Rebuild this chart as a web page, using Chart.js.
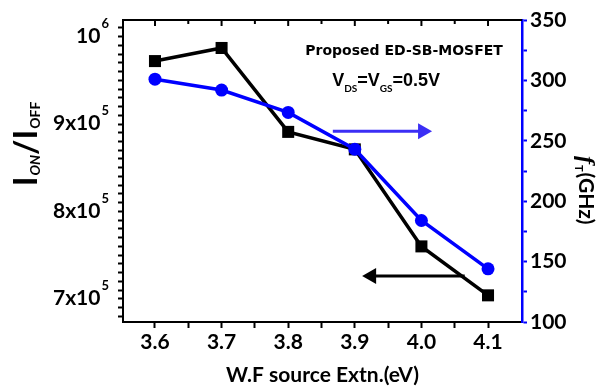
<!DOCTYPE html>
<html>
<head>
<meta charset="utf-8">
<script src="https://cdn.jsdelivr.net/npm/chart.js@4"></script>
<style>
  html, body { margin: 0; padding: 0; background: #fff; }
  #wrap { width: 601px; height: 390px; }
</style>
</head>
<body>
<div id="wrap"><canvas id="chart" width="601" height="390"></canvas></div>
<script>
// Data
const wfSource = [3.6, 3.7, 3.8, 3.9, 4.0, 4.1];
const ionIoff = [962000, 977000, 881000, 861000, 750000, 694000];
const ftGHz = [301, 292, 273.5, 243, 184, 144];

// Axis settings
const xMin = 3.552, xMax = 4.151;
const leftMin = 663500, leftMax = 1009000;
const rightMin = 100, rightMax = 350;
const leftMajor = [700000, 800000, 900000, 1000000];
const leftLabels = [['7x10', '5'], ['8x10', '5'], ['9x10', '5'], ['10', '6']];

// Arrows pointing at each series' axis: [x from, x to, value, axis]
const arrowBlue = [3.867, 4.016, 258, 'y2'];
const arrowBlack = [4.065, 3.911, 716000, 'y'];

const BOLD = 'bold 21px Lato';

function drawRuns(ctx, runs, x, y) {
    runs.forEach(r => {
        ctx.font = r.font;
        ctx.fillText(r.t, x, y + (r.dy || 0));
        x += ctx.measureText(r.t).width + (r.gap || 0);
    });
    return x;
}

function runsWidth(ctx, runs) {
    let w = 0;
    runs.forEach(r => {
        ctx.font = r.font;
        w += ctx.measureText(r.t).width + (r.gap || 0);
    });
    return w;
}

function drawArrow(ctx, x1, x2, y, color) {
    let dir = x2 > x1 ? 1 : -1;
    ctx.strokeStyle = color;
    ctx.fillStyle = color;
    ctx.lineWidth = 3;
    ctx.beginPath();
    ctx.moveTo(x1, y);
    ctx.lineTo(x2 - dir * 10, y);
    ctx.stroke();
    ctx.beginPath();
    ctx.moveTo(x2, y);
    ctx.lineTo(x2 - dir * 14, y - 8);
    ctx.lineTo(x2 - dir * 14, y + 8);
    ctx.closePath();
    ctx.fill();
}

const decorations = {
    id: 'decorations',
    afterDraw(chart) {
        let ctx = chart.ctx;
        let a = chart.chartArea;
        let sx = chart.scales.x, sy = chart.scales.y;
        ctx.save();

        // top frame with inward ticks
        ctx.strokeStyle = '#000';
        ctx.lineWidth = 2;
        ctx.beginPath();
        ctx.moveTo(a.left - 1, a.top);
        ctx.lineTo(a.right, a.top);
        ctx.stroke();
        sx.ticks.forEach((t, i) => {
            let px = sx.getPixelForValue(t.value);
            ctx.beginPath();
            ctx.moveTo(px, a.top);
            ctx.lineTo(px, a.top + (i % 2 === 0 ? 6 : 4));
            ctx.stroke();
        });

        // left tick labels with superscripts
        ctx.fillStyle = '#000';
        ctx.textBaseline = 'alphabetic';
        ctx.textAlign = 'left';
        leftMajor.forEach((v, i) => {
            let py = sy.getPixelForValue(v);
            let runs = [
                { t: leftLabels[i][0], font: BOLD, gap: 1 },
                { t: leftLabels[i][1], font: 'bold 13px Lato', dy: -15 }
            ];
            let w = runsWidth(ctx, runs);
            drawRuns(ctx, runs, 109 - w, py + 15);
        });

        // left axis title  I_ON / I_OFF
        let yTitle = [
            { t: 'I', font: 'bold 33px Lato', gap: 1 },
            { t: 'ON', font: 'italic bold 14px Lato', dy: 3 },
            { t: '/', font: 'bold 33px Lato' },
            { t: 'I', font: 'bold 33px Lato', gap: 1 },
            { t: 'OFF', font: 'bold 14px Lato', dy: 3 }
        ];
        let wy = runsWidth(ctx, yTitle);
        ctx.save();
        ctx.translate(37, 144 + wy / 2);
        ctx.rotate(-Math.PI / 2);
        drawRuns(ctx, yTitle, 0, 0);
        ctx.restore();

        // right axis title  f_T (GHz)
        let rTitle = [
            { t: 'f', font: 'italic bold 24px "Liberation Serif"', gap: 1 },
            { t: 'T', font: 'bold 11px Lato', dy: 4, gap: 1 },
            { t: '(GHz)', font: 'bold 21px Lato' }
        ];
        ctx.save();
        ctx.translate(579, 156);
        ctx.rotate(Math.PI / 2);
        drawRuns(ctx, rTitle, 0, 0);
        ctx.restore();

        // annotation
        ctx.font = 'bold 14px "DejaVu Sans"';
        ctx.textAlign = 'center';
        ctx.fillText('Proposed ED-SB-MOSFET', sx.getPixelForValue(3.974), sy.getPixelForValue(969000));
        ctx.textAlign = 'left';
        drawRuns(ctx, [
            { t: 'V', font: 'bold 18px "Liberation Sans"' },
            { t: 'DS', font: 'bold 10px Lato', dy: 6 },
            { t: '=V', font: 'bold 18px "Liberation Sans"' },
            { t: 'GS', font: 'bold 10px Lato', dy: 6 },
            { t: '=0.5V', font: 'bold 18px "Liberation Sans"' }
        ], sx.getPixelForValue(3.866), sy.getPixelForValue(934000));

        // arrows
        drawArrow(ctx, sx.getPixelForValue(arrowBlue[0]), sx.getPixelForValue(arrowBlue[1]),
            chart.scales[arrowBlue[3]].getPixelForValue(arrowBlue[2]), '#3b2ef5');
        drawArrow(ctx, sx.getPixelForValue(arrowBlack[0]), sx.getPixelForValue(arrowBlack[1]),
            chart.scales[arrowBlack[3]].getPixelForValue(arrowBlack[2]), '#000');

        ctx.restore();
    }
};

let ctx = document.getElementById('chart').getContext('2d');
new Chart(ctx, {
    type: 'line',
    data: {
        datasets: [
            {
                label: 'ft',
                data: wfSource.map((x, i) => ({ x: x, y: ftGHz[i] })),
                yAxisID: 'y2',
                borderColor: '#0000ff',
                backgroundColor: '#0000ff',
                borderWidth: 3.5,
                pointStyle: 'circle',
                pointRadius: 6.5,
                pointBorderWidth: 0,
                order: 0
            },
            {
                label: 'ratio',
                data: wfSource.map((x, i) => ({ x: x, y: ionIoff[i] })),
                yAxisID: 'y',
                borderColor: '#000',
                backgroundColor: '#000',
                borderWidth: 3.5,
                pointStyle: 'rect',
                pointRadius: 8.5,
                pointBorderWidth: 0,
                order: 1
            }
        ]
    },
    options: {
        responsive: false,
        animation: false,
        devicePixelRatio: 1,
        layout: { padding: { top: 20, left: 0, right: 0, bottom: 0 } },
        plugins: { legend: { display: false }, tooltip: { enabled: false } },
        scales: {
            x: {
                type: 'linear',
                position: 'bottom',
                min: xMin,
                max: xMax,
                afterBuildTicks: s => {
                    s.ticks = [3.6, 3.65, 3.7, 3.75, 3.8, 3.85, 3.9, 3.95, 4.0, 4.05, 4.1].map(v => ({ value: v }));
                },
                afterFit: s => { s.height = 68; },
                ticks: {
                    color: '#000',
                    font: { family: 'Lato', weight: 'bold', size: 21 },
                    padding: 2,
                    maxRotation: 0,
                    autoSkip: false,
                    callback: (v, i) => (i % 2 === 0 ? Number(v).toFixed(1) : '')
                },
                grid: { drawOnChartArea: false, tickLength: 6, tickWidth: 2, tickColor: '#000' },
                border: { color: '#000', width: 2 },
                title: {
                    display: true,
                    text: 'W.F source Extn.(eV)',
                    color: '#000',
                    font: { family: 'Lato', weight: 'bold', size: 21 },
                    padding: { top: 0, bottom: 2 }
                }
            },
            y: {
                type: 'linear',
                position: 'left',
                min: leftMin,
                max: leftMax,
                afterBuildTicks: s => {
                    let t = [];
                    for (let v = 670000; v <= 1000000; v += 10000) t.push({ value: v });
                    s.ticks = t;
                },
                afterFit: s => { s.width = 123; },
                ticks: { display: false },
                grid: { drawOnChartArea: false, tickLength: 5, tickWidth: 2, tickColor: '#000' },
                border: { color: '#000', width: 2 }
            },
            y2: {
                type: 'linear',
                position: 'right',
                min: rightMin,
                max: rightMax,
                afterBuildTicks: s => {
                    let t = [];
                    for (let v = 100; v <= 350; v += 25) t.push({ value: v });
                    s.ticks = t;
                },
                afterFit: s => { s.width = 79; },
                ticks: {
                    color: '#000',
                    font: { family: 'Lato', weight: 'bold', size: 21 },
                    padding: 3,
                    autoSkip: false,
                    callback: v => (v % 50 === 0 ? String(v) : '')
                },
                grid: { drawOnChartArea: false, tickLength: 5, tickWidth: 2, tickColor: '#0000ff' },
                border: { color: '#0000ff', width: 2.5 }
            }
        }
    },
    plugins: [decorations]
});
</script>
</body>
</html>
